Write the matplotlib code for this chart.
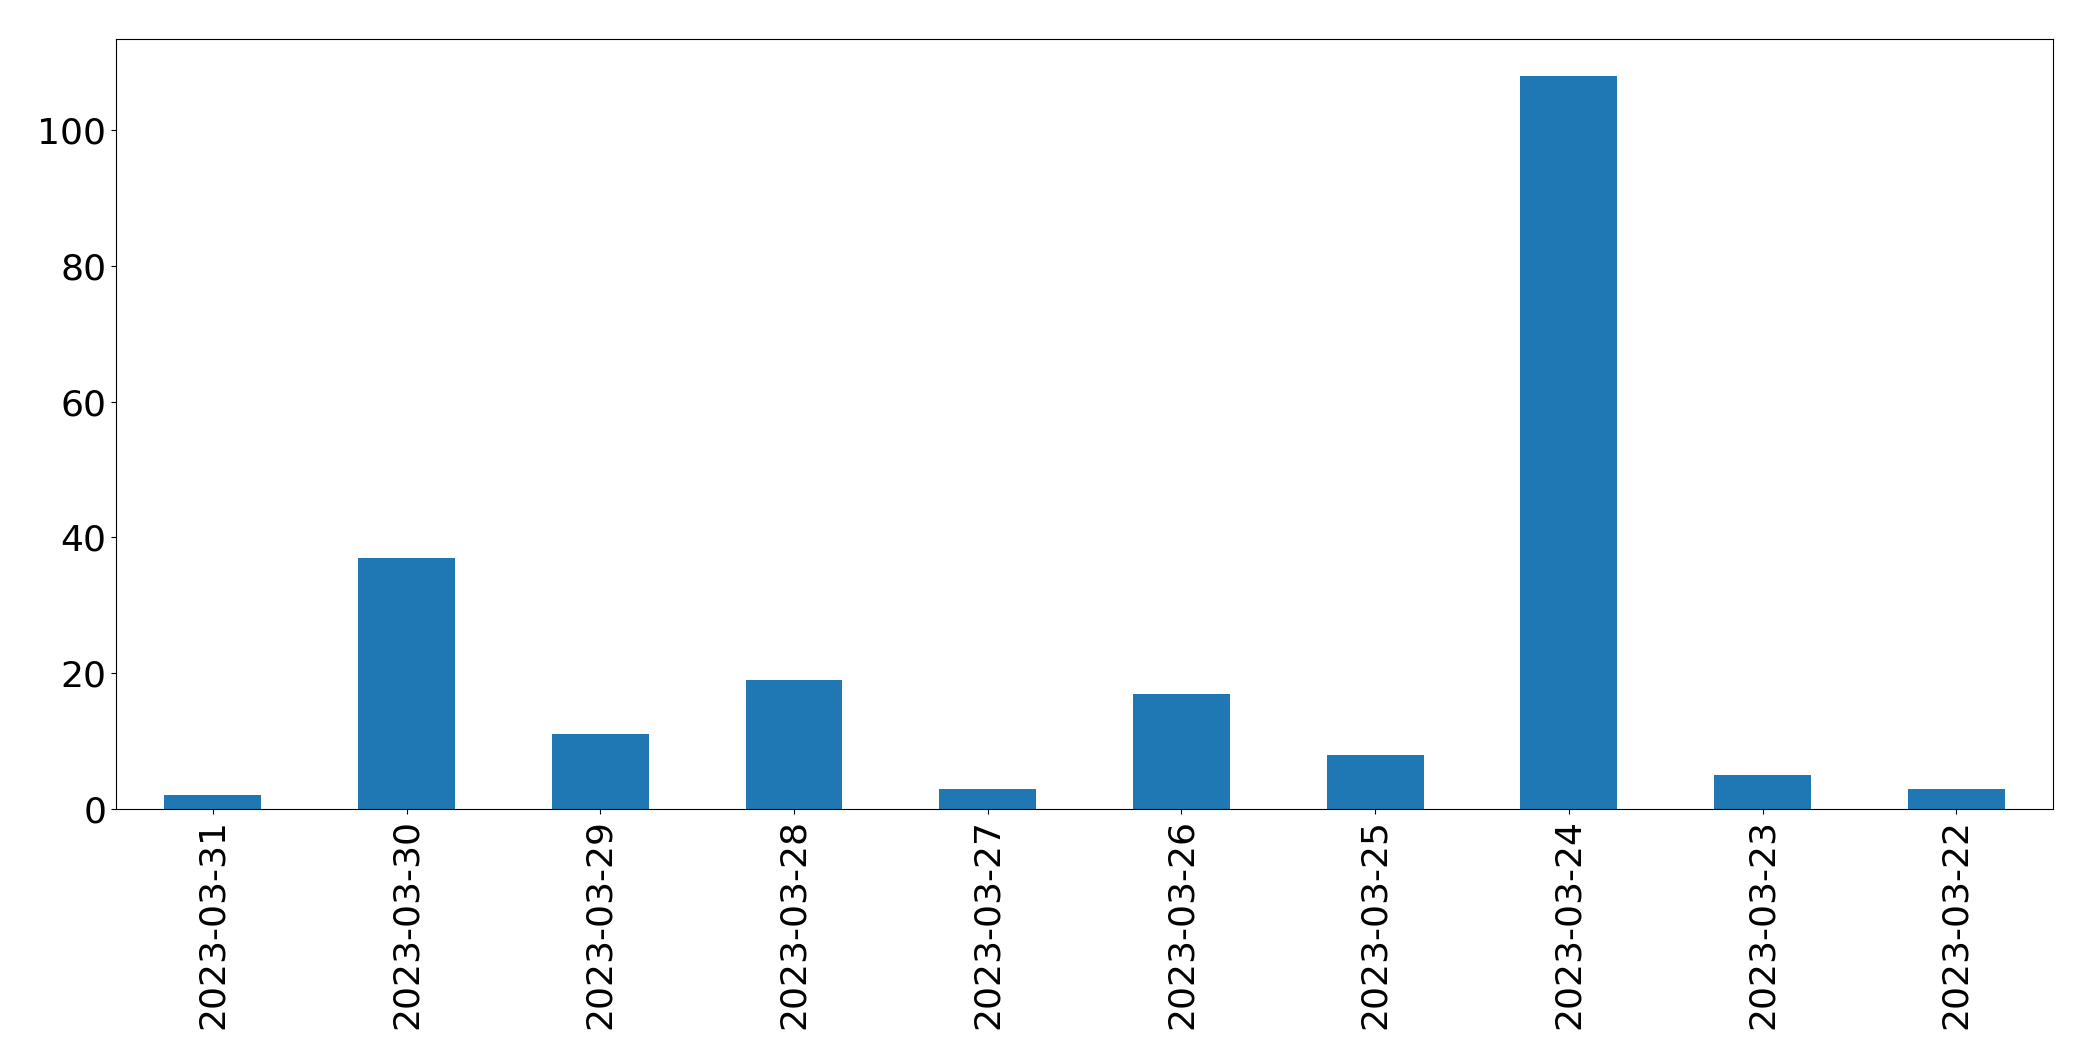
import matplotlib
matplotlib.use('Agg')
import matplotlib.pyplot as plt
import pandas as pd

dates = ['2023-03-31', '2023-03-30', '2023-03-29', '2023-03-28', '2023-03-27',
         '2023-03-26', '2023-03-25', '2023-03-24', '2023-03-23', '2023-03-22']
counts = [2, 37, 11, 19, 3, 17, 8, 108, 5, 3]

s = pd.Series(counts, index=dates)

fig, ax = plt.subplots(figsize=(20.93, 10.61), dpi=100)
s.plot(kind='bar', ax=ax, color='#1f77b4', fontsize=26)
fig.subplots_adjust(left=0.0554, right=0.981, top=0.9632, bottom=0.2375)
plt.savefig('out.png', dpi=100)
